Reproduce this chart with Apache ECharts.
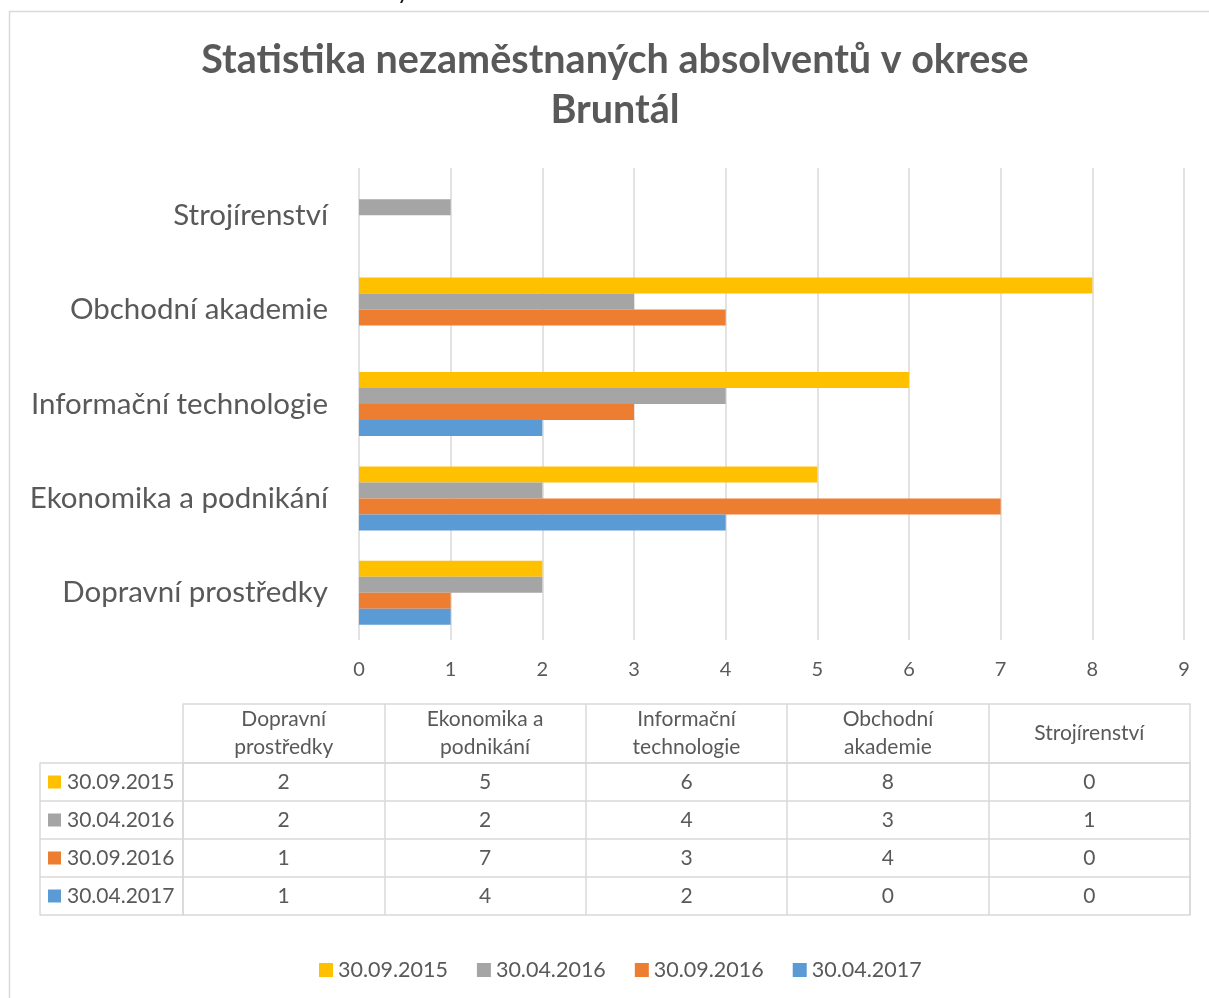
<!DOCTYPE html>
<html>
<head>
<meta charset="utf-8">
<script src="https://cdn.jsdelivr.net/npm/echarts@6/dist/echarts.min.js"></script>
<style>
html,body{margin:0;padding:0;background:#fff;}
#chart{width:1209px;height:998px;}
</style>
</head>
<body>
<div id="chart"></div>
<script>
// ---- data ----
var titleText = 'Statistika nezaměstnaných absolventů v okrese\nBruntál';
var categories = ['Dopravní prostředky', 'Ekonomika a podnikání', 'Informační technologie', 'Obchodní akademie', 'Strojírenství'];
var seriesNames = ['30.09.2015', '30.04.2016', '30.09.2016', '30.04.2017'];
var s2015_09 = [2, 5, 6, 8, 0];
var s2016_04 = [2, 2, 4, 3, 1];
var s2016_09 = [1, 7, 3, 4, 0];
var s2017_04 = [1, 4, 2, 0, 0];
var seriesValues = [s2015_09, s2016_04, s2016_09, s2017_04];
var xTicks = [0, 1, 2, 3, 4, 5, 6, 7, 8, 9];
var colors = ['#FFC000', '#A5A5A5', '#ED7D31', '#5B9BD5'];

// ---- styles ----
var FONT = 'Lato';
var TXT = '#595959';
var LINE = '#D9D9D9';

var chart = echarts.init(document.getElementById('chart'), null, {renderer: 'canvas'});

var barSeries = seriesNames.map(function (name, i) {
  return {
    name: name,
    type: 'bar',
    xAxisIndex: 0,
    yAxisIndex: 0,
    data: seriesValues[i],
    barWidth: 16,
    barGap: '0%',
    itemStyle: {color: colors[i]},
    emphasis: {disabled: true}
  };
});

// table cell data: [column(category), row(series), value]
var cellData = [];
seriesValues.forEach(function (arr, r) {
  arr.forEach(function (v, c) { cellData.push([c, r, v]); });
});

var rowRich = {t: {fontFamily: FONT, fontSize: 21, color: TXT}, gap: {width: 6}};
colors.forEach(function (c, i) {
  rowRich['k' + i] = {width: 13, height: 13, backgroundColor: c};
});

function wrapHeader(s) {
  var idx = s.lastIndexOf(' ');
  return idx > 0 ? s.slice(0, idx) + '\n' + s.slice(idx + 1) : s;
}

var option = {
  animation: false,
  backgroundColor: '#fff',
  title: {
    text: titleText,
    left: 615,
    top: 35,
    padding: 0,
    textAlign: 'center',
    textStyle: {fontFamily: FONT, fontSize: 39.5, fontWeight: 'bold', color: TXT, lineHeight: 50}
  },
  graphic: [{
    type: 'rect',
    shape: {x: 9.5, y: 11.5, width: 1400, height: 1200},
    style: {fill: 'none', stroke: LINE, lineWidth: 1.5},
    silent: true,
    z: -10
  }, {
    type: 'text',
    x: 397, y: 3,
    style: {text: 'y', fontFamily: FONT, fontSize: 24, fill: '#111', verticalAlign: 'bottom'},
    silent: true
  }],
  legend: {
    data: seriesNames,
    left: 319,
    top: 959,
    padding: 0,
    itemWidth: 14,
    itemHeight: 14,
    itemGap: 29,
    icon: 'rect',
    textStyle: {fontFamily: FONT, fontSize: 21.5, color: TXT}
  },
  grid: [
    {left: 359, right: 25, top: 168, bottom: 358, containLabel: false},
    {left: 183, top: 763, width: 1007, height: 152, containLabel: false}
  ],
  xAxis: [
    {
      gridIndex: 0, type: 'value', min: 0, max: 9, interval: 1,
      axisLine: {show: false}, axisTick: {show: false},
      splitLine: {show: true, lineStyle: {color: LINE, width: 1.5}},
      axisLabel: {margin: 20, fontFamily: FONT, fontSize: 20, color: TXT,
        formatter: function (v) { return xTicks.indexOf(v) >= 0 ? String(v) : ''; }}
    },
    {
      gridIndex: 1, type: 'category', position: 'top', data: categories,
      axisLine: {show: true, lineStyle: {color: LINE, width: 1.5}},
      axisTick: {show: true, interval: 0, length: 59, lineStyle: {color: LINE, width: 1.5}},
      splitLine: {show: true, interval: 0, lineStyle: {color: LINE, width: 1.5}},
      axisLabel: {interval: 0, margin: 30, verticalAlign: 'middle', fontFamily: FONT, fontSize: 21,
        lineHeight: 28, color: TXT, formatter: wrapHeader}
    },
    {
      gridIndex: 1, type: 'category', position: 'top', offset: 59, data: categories,
      axisLine: {show: true, lineStyle: {color: LINE, width: 1.5}},
      axisTick: {show: false}, axisLabel: {show: false}, splitLine: {show: false}
    }
  ],
  yAxis: [
    {
      gridIndex: 0, type: 'category', data: categories,
      axisLine: {show: false}, axisTick: {show: false},
      axisLabel: {margin: 31, fontFamily: FONT, fontSize: 29.5, color: TXT}
    },
    {
      gridIndex: 1, type: 'category', inverse: true, data: seriesNames,
      axisLine: {show: true, lineStyle: {color: LINE, width: 1.5}},
      axisTick: {show: true, interval: 0, length: 143, lineStyle: {color: LINE, width: 1.5}},
      splitLine: {show: true, interval: 0, lineStyle: {color: LINE, width: 1.5}},
      axisLabel: {interval: 0, align: 'left', margin: 135, rich: rowRich,
        formatter: function (v, i) { return '{k' + i + '|}{gap|}{t|' + v + '}'; }}
    },
    {
      gridIndex: 1, type: 'category', position: 'left', offset: 143, inverse: true, data: seriesNames,
      axisLine: {show: true, lineStyle: {color: LINE, width: 1.5}},
      axisTick: {show: false}, axisLabel: {show: false}, splitLine: {show: false}
    },
    {
      gridIndex: 1, type: 'category', position: 'right', inverse: true, data: seriesNames,
      axisLine: {show: true, lineStyle: {color: LINE, width: 1.5}},
      axisTick: {show: false}, axisLabel: {show: false}, splitLine: {show: false}
    }
  ],
  series: barSeries.concat([{
    type: 'custom',
    xAxisIndex: 1,
    yAxisIndex: 1,
    data: cellData,
    encode: {x: 0, y: 1},
    silent: true,
    renderItem: function (params, api) {
      var p = api.coord([api.value(0), api.value(1)]);
      return {
        type: 'text',
        x: p[0], y: p[1],
        style: {text: String(api.value(2)), align: 'center', verticalAlign: 'middle',
          fontFamily: FONT, fontSize: 21, fill: TXT}
      };
    }
  }])
};

chart.setOption(option);
</script>
</body>
</html>
